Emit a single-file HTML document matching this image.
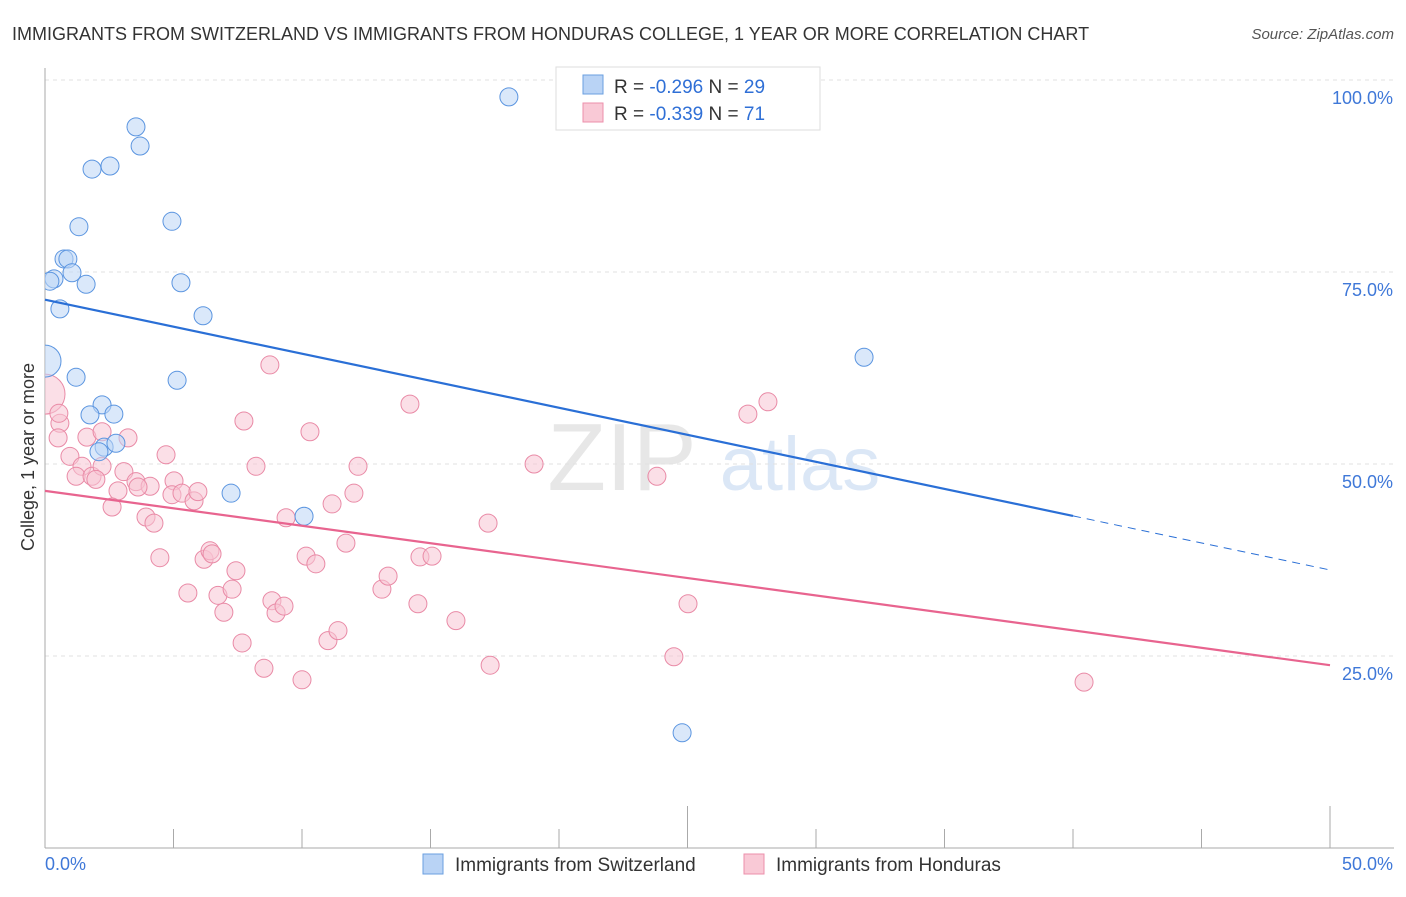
<!DOCTYPE html>
<html><head><meta charset="utf-8"><style>
body{margin:0;background:#fff;font-family:"Liberation Sans",sans-serif}
svg text{font-family:"Liberation Sans",sans-serif}
</style></head><body>
<svg id="chart" width="1406" height="892" xmlns="http://www.w3.org/2000/svg">
<text x="12" y="40" font-size="18" fill="#333">IMMIGRANTS FROM SWITZERLAND VS IMMIGRANTS FROM HONDURAS COLLEGE, 1 YEAR OR MORE CORRELATION CHART</text>
<text x="1394" y="39" font-size="15" fill="#555" font-style="italic" text-anchor="end">Source: ZipAtlas.com</text>
<text transform="translate(34,457) rotate(-90)" font-size="18" fill="#333" text-anchor="middle">College, 1 year or more</text>
<g opacity="0.35">
<text x="622" y="490" font-size="96" font-family="Liberation Serif" fill="#bbb" text-anchor="middle">ZIP</text>
<text x="800" y="490" font-size="76" fill="#9bbde8" text-anchor="middle">atlas</text>
</g>
<g id="grid"></g><g id="axes"></g>
<defs><clipPath id="plotclip"><rect x="45" y="60" width="1300" height="790"/></clipPath></defs>
<g id="pts" clip-path="url(#plotclip)"></g>
<g id="lines"></g>
<g>
<rect x="556" y="67" width="264" height="63" fill="#fff" stroke="#ddd"/>
<rect x="583" y="75" width="20" height="19" fill="#b9d3f5" stroke="#6a9fe0"/>
<rect x="583" y="103" width="20" height="19" fill="#f9c9d6" stroke="#ec8fab"/>
<text x="614" y="93" font-size="19" fill="#333">R = <tspan fill="#2f6fd6">-0.296</tspan>   N = <tspan fill="#2f6fd6">29</tspan></text>
<text x="614" y="120" font-size="19" fill="#333">R = <tspan fill="#2f6fd6">-0.339</tspan>   N = <tspan fill="#2f6fd6"> 71</tspan></text>
</g>
<g>
<rect x="423" y="854" width="20" height="20" fill="#b9d3f5" stroke="#6a9fe0"/>
<text x="455" y="871" font-size="19" fill="#333">Immigrants from Switzerland</text>
<rect x="744" y="854" width="20" height="20" fill="#f9c9d6" stroke="#ec8fab"/>
<text x="776" y="871" font-size="19" fill="#333">Immigrants from Honduras</text>
</g>
</svg>
<script>
const yTicks=[25,50,75,100];
const yTickLabels=["25.0%","50.0%","75.0%","100.0%"];
const xTickLabels=["0.0%","50.0%"];
const blueX=[18.05,3.54,3.70,1.83,2.53,1.32,4.94,0.74,0.89,1.05,0.35,0.19,1.60,5.29,0.58,6.15,0,1.21,5.14,31.87,2.22,1.75,2.68,2.30,2.10,2.76,7.24,10.08,24.79];
const blueY=[97.8,93.9,91.4,88.4,88.8,80.9,81.6,76.7,76.7,74.9,74.1,73.8,73.4,73.6,70.2,69.3,63.4,61.3,60.9,63.9,57.7,56.4,56.5,52.2,51.6,52.7,46.2,43.2,15.0];
const pinkX=[0,0.58,0.51,0.97,1.63,2.22,3.23,1.44,1.21,1.83,2.22,1.98,2.84,2.61,3.07,3.54,4.09,3.62,4.71,5.02,4.94,5.33,5.80,5.95,3.93,4.24,4.47,5.56,6.19,6.42,6.50,6.73,6.96,7.43,7.28,7.67,7.74,8.21,8.52,8.75,8.83,8.99,9.30,9.38,10.0,10.16,10.31,10.54,11.01,11.17,11.40,11.71,12.02,12.18,13.11,13.35,14.20,14.51,14.59,15.06,15.99,17.24,17.32,19.03,23.81,24.47,25.02,27.35,28.13,40.43,0.54];
const pinkY=[59.1,55.3,53.4,51.0,53.5,54.2,53.4,49.7,48.4,48.4,49.7,48.0,46.5,44.4,49.0,47.7,47.1,47.0,51.2,47.8,46.0,46.2,45.2,46.4,43.1,42.3,37.8,33.2,37.6,38.7,38.3,32.9,30.7,36.1,33.7,26.7,55.6,49.7,23.4,62.9,32.2,30.6,31.5,43.0,21.9,38.0,54.2,37.0,27.0,44.8,28.3,39.7,46.2,49.7,33.7,35.4,57.8,31.8,37.9,38.0,29.6,42.3,23.8,50.0,48.4,24.9,31.8,56.5,58.1,21.6,56.6];
const blueBig=[16];
const pinkBig=[0];
const blueTrend=[71.4,36.2];
const pinkTrend=[46.5,23.8];
const blueSolidEnd=40;
const NS="http://www.w3.org/2000/svg";
const X=v=>45+v*25.7, Y=v=>848-v*7.68;
function mk(t,a,p){const e=document.createElementNS(NS,t);for(const k in a)e.setAttribute(k,a[k]);p.appendChild(e);return e;}
const grid=document.getElementById('grid'),axes=document.getElementById('axes'),pts=document.getElementById('pts'),lines=document.getElementById('lines');
yTicks.forEach((t,i)=>{
 const l=mk('line',{x1:45,x2:1394,y1:Y(t),y2:Y(t),stroke:'#e2e2e2','stroke-dasharray':'4,4'},grid);
 
 
 const tx=mk('text',{x:1393,y:Y(t)+24,'font-size':18,fill:'#3f78d8','text-anchor':'end'},axes);
 tx.textContent=yTickLabels[i];
 
 
});
const ax=mk('line',{x1:45,x2:45,y1:68,y2:848,stroke:'#aaa'},axes);


const bx=mk('line',{x1:45,x2:1394,y1:848,y2:848,stroke:'#aaa'},axes);


for(let i=0;i<=10;i++){const v=i*5;const t=mk('line',{x1:X(v),x2:X(v),y1:(i%5==0?806:829),y2:848,stroke:'#aaa'},axes);
 
 }
[[0,'start'],[50,'end']].forEach((d,i)=>{const t=mk('text',{x:i?1393:45,y:870,'font-size':18,fill:'#3f78d8','text-anchor':d[1]},axes);t.textContent=xTickLabels[i];
 
 });
function drawPts(xs,ys,big,fill,stroke,name){xs.forEach((x,i)=>{const c=mk('circle',{cx:X(x),cy:Y(ys[i]),r:big.includes(i)?(name=='pink-point'?20:16):9,fill:fill,'fill-opacity':0.55,stroke:stroke,'stroke-width':1},pts);
 
 });}
drawPts(pinkX,pinkY,pinkBig,'#f8c4d3','#e98aa6','pink-point');
drawPts(blueX,blueY,blueBig,'#bcd5f6','#5b95e0','blue-point');
const yb=v=>blueTrend[0]+(blueTrend[1]-blueTrend[0])*v/50;
const b1=mk('line',{x1:X(0),y1:Y(yb(0)),x2:X(blueSolidEnd),y2:Y(yb(blueSolidEnd)),stroke:'#2a6fd6','stroke-width':2.2},lines);


const b2=mk('line',{x1:X(blueSolidEnd),y1:Y(yb(blueSolidEnd)),x2:X(50),y2:Y(yb(50)),stroke:'#2a6fd6','stroke-width':1,'stroke-dasharray':'8,6'},lines);


const p1=mk('line',{x1:X(0),y1:Y(pinkTrend[0]),x2:X(50),y2:Y(pinkTrend[1]),stroke:'#e8648f','stroke-width':2.2},lines);


</script>
</body></html>
